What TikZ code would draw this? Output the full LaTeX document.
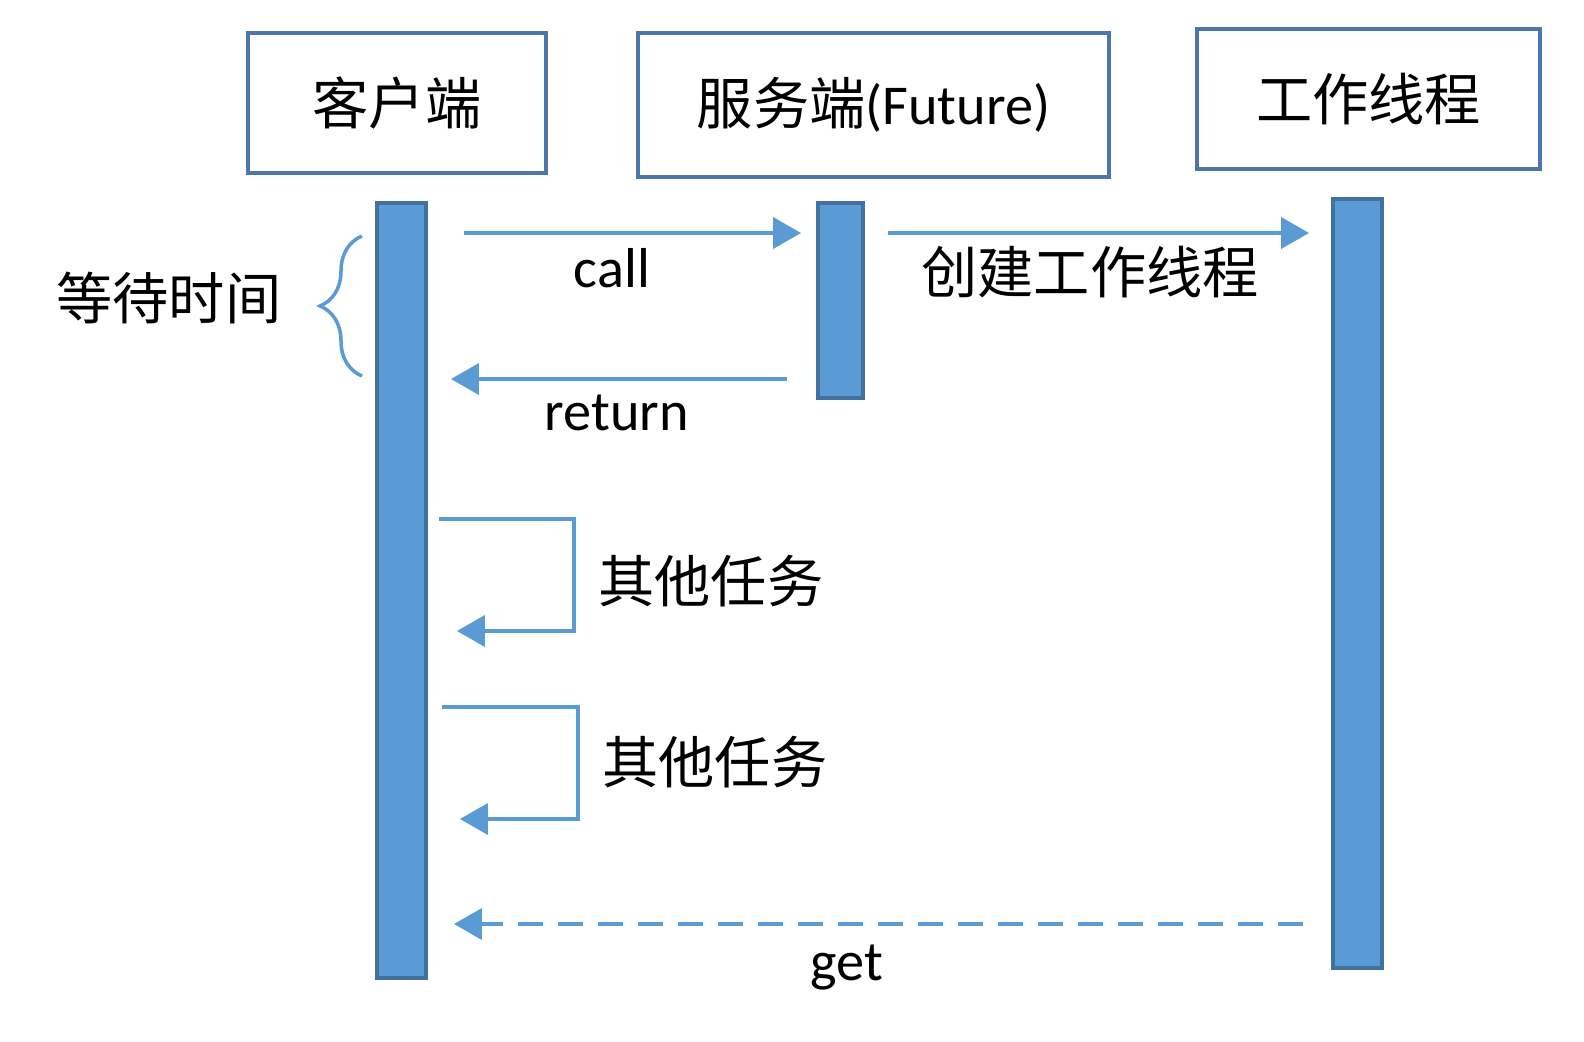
\documentclass[tikz,border=0pt]{standalone}
\usepackage{fontspec}
\setmainfont{Carlito}
\newfontfamily\cjk{Noto Sans CJK SC}
\usetikzlibrary{arrows.meta}
\usetikzlibrary{calc}
\usetikzlibrary{positioning}
\usetikzlibrary{decorations.pathreplacing}
\definecolor{seq-blue}{HTML}{5B9BD5}
\definecolor{seq-dark}{HTML}{41719C}
\definecolor{seq-frame}{HTML}{4A76AD}

\begin{document}
\begin{tikzpicture}[font=\fontsize{16}{19}\selectfont,
    msg/.style={-{Triangle[length=2.8mm, width=3.1mm]}, line width=1.1pt, color=seq-blue}]

    \useasboundingbox (0,0) rectangle (15.84,-10.42);

    % participants
    \begin{scope}[every node/.style={draw=seq-frame, line width=1.2pt, inner sep=0pt}]
        \node[minimum width=2.98cm, minimum height=1.40cm] (client) at (3.97,-1.03) {\cjk 客户端};
        \node[minimum width=4.71cm, minimum height=1.44cm] (server) at (8.735,-1.05) {{\cjk 服务端}(Future)};
        \node[minimum width=3.43cm, minimum height=1.40cm] (worker) at (13.685,-0.99) {\cjk 工作线程};
    \end{scope}

    % lifelines
    \begin{scope}[every node/.style={fill=seq-blue, draw=seq-dark, line width=1.1pt, inner sep=0pt}]
        \node[minimum width=0.49cm, minimum height=7.75cm] (cbar) at (4.015,-5.905) {};
        \node[minimum width=0.45cm, minimum height=1.95cm] (sbar) at (8.405,-3.005) {};
        \node[minimum width=0.49cm, minimum height=7.69cm] (wbar) at (13.575,-5.835) {};
    \end{scope}

    % messages
    \draw[msg, shorten <=0.36cm, shorten >=0.15cm] (cbar.east |- 0,-2.33) -- (sbar.west |- 0,-2.33);
    \draw[msg, shorten <=0.23cm, shorten >=0.22cm] (sbar.east |- 0,-2.33) -- (wbar.west |- 0,-2.33);
    \draw[msg, shorten <=0.29cm, shorten >=0.23cm] (sbar.west |- 0,-3.79) -- (cbar.east |- 0,-3.79);

    % self calls
    \draw[msg, shorten <=0.11cm, shorten >=0.29cm] (cbar.east |- 0,-5.19) -| (5.74,-6.31) -- (cbar.east |- 0,-6.31);
    \draw[msg, shorten <=0.14cm, shorten >=0.32cm] (cbar.east |- 0,-7.07) -| (5.78,-8.19) -- (cbar.east |- 0,-8.19);

    % result
    \draw[msg, dash pattern=on 0.25cm off 0.15cm, shorten <=0.28cm, shorten >=0.26cm] (wbar.west |- 0,-9.24) -- (cbar.east |- 0,-9.24);

    % waiting time
    \draw[seq-blue, line width=1pt, decorate, decoration={brace, amplitude=0.42cm}] (3.62,-3.76) -- (3.62,-2.36);

    % labels
    \node (call) at (6.12,-2.68) {call};
    \node (ret) at (6.17,-4.13) {return};
    \node (get) at (8.47,-9.68) {get};
    \node (create) at (10.90,-2.72) {\cjk 创建工作线程};
    \node (wait) at (1.69,-2.98) {\cjk 等待时间};
    \node[anchor=west] (task1) at (5.86,-5.81) {\cjk 其他任务};
    \node[anchor=west] (task2) at (5.90,-7.62) {\cjk 其他任务};

\end{tikzpicture}
\end{document}
